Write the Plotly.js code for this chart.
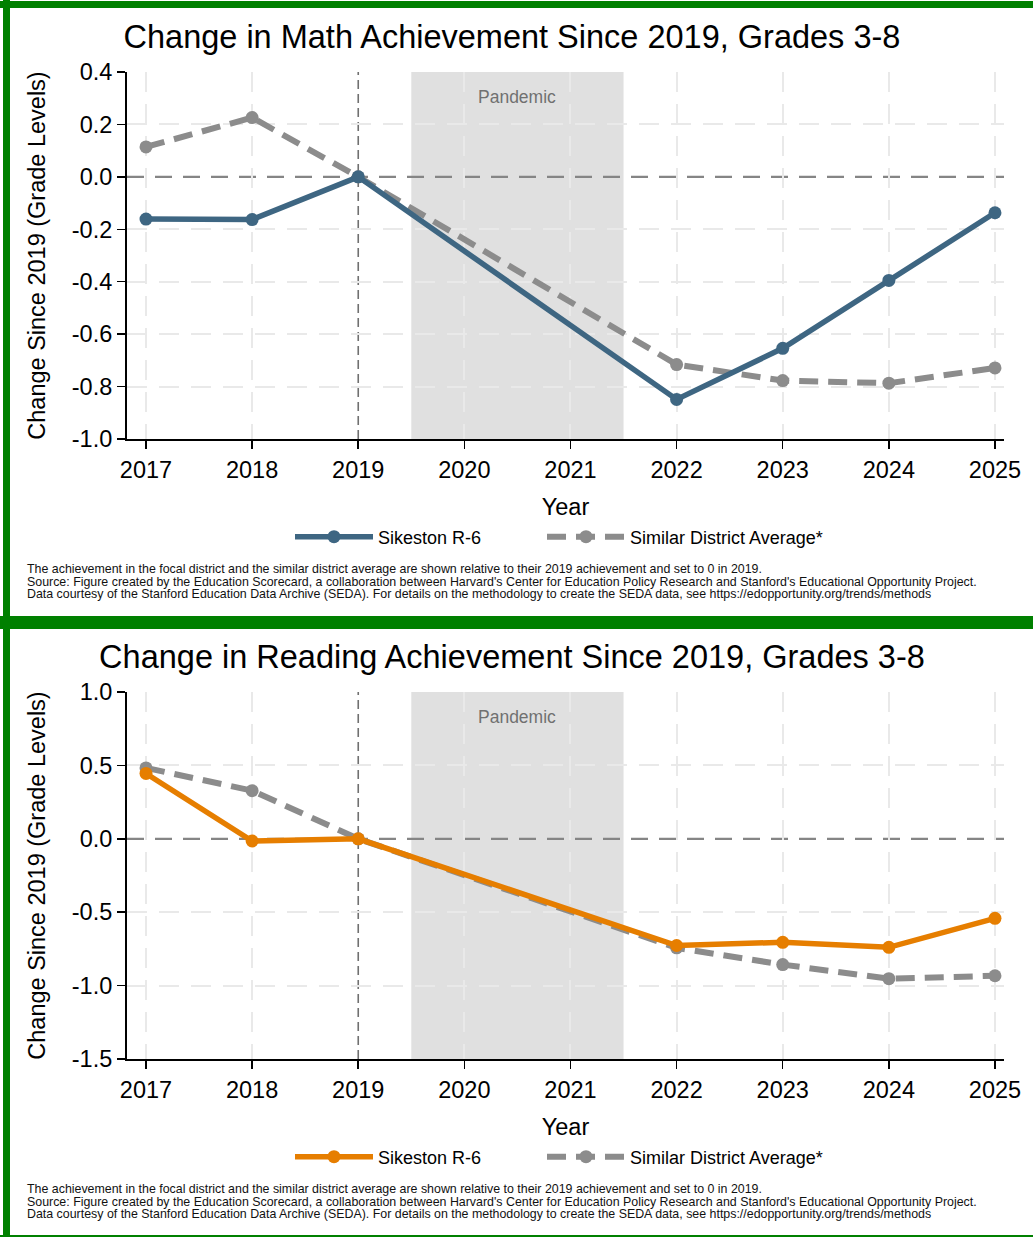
<!DOCTYPE html>
<html><head><meta charset="utf-8">
<script src="https://cdn.plot.ly/plotly-3.0.1.min.js"></script>
<style>
body{margin:0;background:#fff;width:1033px;height:1237px;position:relative;overflow:hidden}
#math{position:absolute;left:0;top:0;width:1033px;height:620px}
#read{position:absolute;left:0;top:620px;width:1033px;height:617px}
.g{position:absolute;background:#008000;z-index:10}
</style></head><body>
<div id="math"></div><div id="read"></div>
<div class="g" style="left:0;top:1px;width:1033px;height:7px"></div>
<div class="g" style="left:3px;top:0;width:7px;height:1237px"></div>
<div class="g" style="left:0;top:616px;width:1033px;height:13px"></div>
<div class="g" style="left:0;top:1235px;width:1033px;height:2px"></div>
<script>
// ---- data ----
const years = [2017, 2018, 2019, 2022, 2023, 2024, 2025];
const mathDistrict = [-0.161, -0.163, 0.0, -0.849, -0.654, -0.395, -0.137];
const mathSimilar  = [0.114, 0.226, 0.0, -0.716, -0.777, -0.787, -0.729];
const readDistrict = [0.445, -0.015, 0.0, -0.727, -0.705, -0.739, -0.542];
const readSimilar  = [0.483, 0.328, 0.0, -0.743, -0.857, -0.953, -0.933];

const xTickVals = [2017, 2018, 2019, 2020, 2021, 2022, 2023, 2024, 2025];
const xTickText = ['2017', '2018', '2019', '2020', '2021', '2022', '2023', '2024', '2025'];
const mathYTicks = [0.4, 0.2, 0.0, -0.2, -0.4, -0.6, -0.8, -1.0];
const mathYText  = ['0.4', '0.2', '0.0', '-0.2', '-0.4', '-0.6', '-0.8', '-1.0'];
const readYTicks = [1.0, 0.5, 0.0, -0.5, -1.0, -1.5];
const readYText  = ['1.0', '0.5', '0.0', '-0.5', '-1.0', '-1.5'];

const seriesNames = ['Sikeston R-6', 'Similar District Average*'];
const mathTitle = 'Change in Math Achievement Since 2019, Grades 3-8';
const readTitle = 'Change in Reading Achievement Since 2019, Grades 3-8';
const xTitle = 'Year';
const yTitle = 'Change Since 2019 (Grade Levels)';
const shadeLabel = 'Pandemic';
const baselineYear = 2019;
const baselineValue = 0;
const pandemicStart = 2019.5;
const pandemicEnd = 2021.5;
const notes = [
  'The achievement in the focal district and the similar district average are shown relative to their 2019 achievement and set to 0 in 2019.',
  "Source: Figure created by the Education Scorecard, a collaboration between Harvard's Center for Education Policy Research and Stanford's Educational Opportunity Project.",
  'Data courtesy of the Stanford Education Data Archive (SEDA). For details on the methodology to create the SEDA data, see https://edopportunity.org/trends/methods'
];

const FONT = 'Liberation Sans, Arial, Helvetica, sans-serif';
const GRAY = '#8c8c8c';
const GRIDC = '#e9e9e9';

function build(divId, title, district, similar, color, yTicks, yText, yRange, height) {
  const plotH = 367;
  const traces = [
    {x: years, y: similar, name: seriesNames[1], type: 'scatter', mode: 'lines+markers',
     line: {color: GRAY, width: 6, dash: '19px,10px'}, marker: {size: 13, color: GRAY},
     legend: 'legend2', hoverinfo: 'skip'},
    {x: years, y: district, name: seriesNames[0], type: 'scatter', mode: 'lines+markers',
     line: {color: color, width: 5.5}, marker: {size: 13, color: color},
     legend: 'legend', hoverinfo: 'skip'}
  ];
  const noteAnn = notes.map((t, i) => ({
    text: t, xref: 'paper', yref: 'paper', x: (25 - 127) / 877, xanchor: 'left',
    y: (439 - (569 + i * 12.5)) / plotH, yanchor: 'middle', showarrow: false,
    font: {size: 12.4, color: '#111', family: FONT}, align: 'left'
  }));
  const legBase = {orientation: 'h', xanchor: 'left', y: -(537 - 439) / plotH, yanchor: 'middle',
                   font: {size: 18}, itemwidth: 78, bgcolor: 'rgba(0,0,0,0)'};
  // grid lines everywhere except where the dashed reference lines sit
  const xGrid = xTickVals.filter(v => v !== baselineYear);
  const yGrid = yTicks.filter(v => v !== baselineValue);
  const gridStyle = {showgrid: true, gridcolor: GRIDC, gridwidth: 2, griddash: '20px,12px', ticks: ''};
  const layout = {
    width: 1033, height: height,
    margin: {l: 127, r: 29, t: 72, b: height - 439, pad: 0},
    paper_bgcolor: 'white', plot_bgcolor: 'white',
    font: {family: FONT, color: '#000'},
    title: {text: title, font: {size: 32.5, color: '#000', family: FONT},
            xref: 'container', x: 0.4956, xanchor: 'center',
            yref: 'container', y: 1 - 37 / height, yanchor: 'middle'},
    xaxis: {range: [2016.821, 2025.085], tickmode: 'array', tickvals: xTickVals, ticktext: xTickText,
            tickfont: {size: 23.5}, ticks: 'outside', ticklen: 8, tickwidth: 1.5, tickcolor: '#000',
            ticklabelstandoff: 1,
            showline: true, linecolor: '#000', linewidth: 2, showgrid: false,
            minor: Object.assign({tickmode: 'array', tickvals: xGrid}, gridStyle),
            zeroline: false, fixedrange: true, automargin: false,
            title: {text: xTitle, font: {size: 23.5}, standoff: 16}},
    yaxis: {range: yRange, tickmode: 'array', tickvals: yTicks, ticktext: yText,
            tickfont: {size: 23.5}, ticks: 'outside', ticklen: 8, tickwidth: 1.5, tickcolor: '#000',
            showline: true, linecolor: '#000', linewidth: 2, showgrid: false,
            minor: Object.assign({tickmode: 'array', tickvals: yGrid}, gridStyle),
            zeroline: false, fixedrange: true, automargin: false,
            title: {text: yTitle, font: {size: 23.5}, standoff: 20}},
    shapes: [
      {type: 'rect', xref: 'x', yref: 'paper', x0: pandemicStart, x1: pandemicEnd, y0: 0, y1: 1,
       fillcolor: '#e0e0e0', line: {width: 0}, layer: 'below'},
      {type: 'line', xref: 'paper', yref: 'y', x0: 0, x1: 1, y0: baselineValue, y1: baselineValue,
       line: {color: '#858585', width: 2.2, dash: '17px,11px'}, layer: 'below'},
      {type: 'line', xref: 'x', yref: 'paper', x0: baselineYear, x1: baselineYear, y0: 0, y1: 1,
       line: {color: '#707070', width: 1.6, dash: '9px,5px'}, layer: 'below'}
    ],
    annotations: [
      {text: shadeLabel, xref: 'x', yref: 'paper', x: (pandemicStart + pandemicEnd) / 2, y: 1 - 25 / plotH,
       yanchor: 'middle', showarrow: false, font: {size: 17.5, color: '#707070'}}
    ].concat(noteAnn),
    showlegend: true,
    legend: Object.assign({}, legBase, {x: (290 - 127) / 877}),
    legend2: Object.assign({}, legBase, {x: (542 - 127) / 877})
  };
  Plotly.newPlot(divId, traces, layout, {staticPlot: true, displayModeBar: false});
}

build('math', mathTitle, mathDistrict, mathSimilar, '#3e6682', mathYTicks, mathYText, [-1.0, 0.4], 620);
build('read', readTitle, readDistrict, readSimilar, '#e67e00', readYTicks, readYText, [-1.5, 1.0], 617);
</script>
</body></html>
